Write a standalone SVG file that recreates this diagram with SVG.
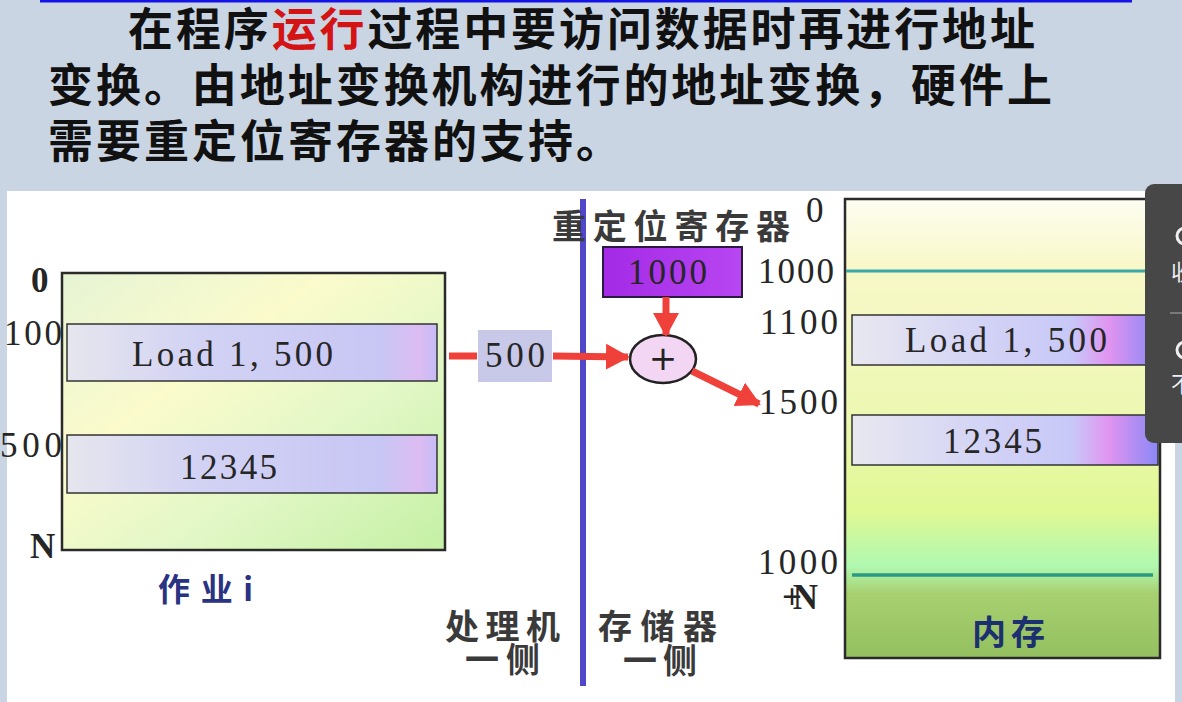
<svg xmlns="http://www.w3.org/2000/svg" width="1182" height="702" viewBox="0 0 1182 702">
<style>
.ttl{font-family:"Noto Sans CJK SC","Noto Sans",sans-serif;font-size:45px;font-weight:700;fill:#111}
.num{font-family:"Liberation Serif","DejaVu Serif",serif;font-size:35px;fill:#262626}
.cjk{font-family:"Noto Sans CJK SC",sans-serif;font-size:34px;font-weight:700;fill:#3a3a3a}
.box{stroke:#2a2a2a;stroke-width:2.5}
.band{stroke:#333;stroke-width:1.5}
.arrow{stroke:#f0403a;stroke-width:7;fill:none}
</style>
<defs>
<marker id="ah" viewBox="0 0 24 26" markerWidth="24" markerHeight="26" refX="22" refY="13" orient="auto" markerUnits="userSpaceOnUse">
<path d="M0,0 L24,13 L0,26 z" fill="#f0403a"/>
</marker>
<linearGradient id="gL" x1="0" y1="0" x2="1" y2="1">
<stop offset="0" stop-color="#e6f4d4"/>
<stop offset="0.35" stop-color="#fbfbcc"/>
<stop offset="0.65" stop-color="#e2f7c6"/>
<stop offset="1" stop-color="#c4f0a4"/>
</linearGradient>
<linearGradient id="gBandL" x1="0" y1="0" x2="1" y2="0">
<stop offset="0" stop-color="#e6e6ee"/>
<stop offset="0.35" stop-color="#d2d2f4"/>
<stop offset="0.85" stop-color="#c8c6f4"/>
<stop offset="0.95" stop-color="#dcbcf2"/>
<stop offset="1" stop-color="#c6bcf6"/>
</linearGradient>
<linearGradient id="gBandR" x1="0" y1="0" x2="1" y2="0">
<stop offset="0" stop-color="#e8e8f0"/>
<stop offset="0.45" stop-color="#d2d2f6"/>
<stop offset="0.72" stop-color="#c8c8f8"/>
<stop offset="0.84" stop-color="#e094f0"/>
<stop offset="1" stop-color="#8a88f6"/>
</linearGradient>
<linearGradient id="gR" x1="0" y1="0" x2="0" y2="1">
<stop offset="0" stop-color="#fdfdf2"/>
<stop offset="0.15" stop-color="#f8f8c8"/>
<stop offset="0.45" stop-color="#eef8b4"/>
<stop offset="0.68" stop-color="#e0f894"/>
<stop offset="0.8" stop-color="#b0f8b0"/>
<stop offset="0.86" stop-color="#a8d070"/>
<stop offset="1" stop-color="#94c060"/>
</linearGradient>
<linearGradient id="gP" x1="0" y1="0" x2="1" y2="0">
<stop offset="0" stop-color="#a42ae6"/>
<stop offset="1" stop-color="#b846f2"/>
</linearGradient>
</defs>

<rect x="0" y="0" width="1182" height="702" fill="#c9d5e3"/>
<rect x="40" y="0" width="1092" height="2.5" fill="#1414e6"/>

<g id="title">
<text class="ttl" x="128" y="46" textLength="907" lengthAdjust="spacing">在程序<tspan fill="#d41414">运行</tspan>过程中要访问数据时再进行地址</text>
<text class="ttl" x="48" y="102" textLength="1004" lengthAdjust="spacing">变换。由地址变换机构进行的地址变换，硬件上</text>
<text class="ttl" x="48" y="158" textLength="573" lengthAdjust="spacing">需要重定位寄存器的支持。</text>
</g>

<rect id="panel" x="7" y="191" width="1168" height="511" fill="#ffffff"/>

<g id="job">
<rect class="box" x="62" y="273" width="383" height="277" fill="url(#gL)"/>
<rect class="band" x="67" y="324" width="370" height="57" fill="url(#gBandL)"/>
<rect class="band" x="67" y="435" width="370" height="58" fill="url(#gBandL)"/>
<text class="num" x="132" y="366" textLength="201" lengthAdjust="spacing">Load 1, 500</text>
<text class="num" x="180" y="479" textLength="97" lengthAdjust="spacing">12345</text>
<text class="num" x="31" y="292" font-weight="bold" font-size="30">0</text>
<text class="num" x="4" y="345" textLength="58" lengthAdjust="spacing">100</text>
<text class="num" x="0" y="457" textLength="62" lengthAdjust="spacing">500</text>
<text class="num" x="30" y="558" font-weight="bold" font-size="30">N</text>
<text x="158" y="601" font-family="Noto Sans CJK SC,sans-serif" font-size="32" font-weight="700" fill="#2a3282" textLength="95" lengthAdjust="spacing">作业i</text>
</g>

<g id="offset">
<rect x="478" y="330" width="74" height="52" fill="#c8c8e8"/>
<text class="num" x="485" y="367" textLength="60" lengthAdjust="spacing">500</text>
</g>

<line id="divider" x1="583" y1="199" x2="583" y2="686" stroke="#5048c8" stroke-width="6"/>

<g id="register">
<text class="cjk" x="552" y="239" font-size="38" textLength="238" lengthAdjust="spacing">重定位寄存器</text>
<text class="num" x="806" y="222" font-size="26">0</text>
<rect x="603" y="247" width="139" height="50" fill="url(#gP)" stroke="#2a1a40" stroke-width="2"/>
<text class="num" x="628" y="284" textLength="79" lengthAdjust="spacing" fill="#3a1850">1000</text>
</g>

<g id="adder">
<ellipse cx="663" cy="359" rx="33" ry="24" fill="#f2d6f4" stroke="#222" stroke-width="2.5"/>
<text x="663" y="370" text-anchor="middle" font-family="DejaVu Sans,sans-serif" font-size="34" fill="#222">+</text>
</g>

<g id="connectors">
<line class="arrow" x1="449" y1="356" x2="477" y2="356"/>
<line class="arrow" x1="553" y1="356" x2="628" y2="357" marker-end="url(#ah)"/>
<line class="arrow" x1="666" y1="297" x2="666" y2="335" marker-end="url(#ah)"/>
<line class="arrow" x1="692" y1="371" x2="759" y2="404" marker-end="url(#ah)"/>
</g>

<g id="memory">
<rect class="box" x="845" y="199" width="315" height="459" fill="url(#gR)"/>
<line x1="846" y1="271" x2="1158" y2="271" stroke="#3aa8a8" stroke-width="3"/>
<rect class="band" x="852" y="315" width="306" height="50" fill="url(#gBandR)"/>
<rect class="band" x="852" y="415" width="306" height="50" fill="url(#gBandR)"/>
<line x1="852" y1="575" x2="1153" y2="575" stroke="#2a9a84" stroke-width="3.5"/>
<text class="num" x="905" y="352" textLength="202" lengthAdjust="spacing">Load 1, 500</text>
<text class="num" x="943" y="453" textLength="99" lengthAdjust="spacing">12345</text>
<text x="972" y="645" font-family="Noto Sans CJK SC,sans-serif" font-size="34" font-weight="700" fill="#1c3070" textLength="73" lengthAdjust="spacing">内存</text>
</g>

<g id="addresses">
<text class="num" x="758" y="283" textLength="76" lengthAdjust="spacing">1000</text>
<text class="num" x="760" y="334" textLength="78" lengthAdjust="spacing">1100</text>
<text class="num" x="759" y="414" textLength="79" lengthAdjust="spacing">1500</text>
<text class="num" x="758" y="574" textLength="80" lengthAdjust="spacing">1000</text>
<text class="num" x="782" y="609" textLength="36" lengthAdjust="spacing" font-size="27" font-weight="bold">+N</text>
</g>

<g id="sides">
<text class="cjk" x="445" y="639" textLength="115" lengthAdjust="spacing">处理机</text>
<text class="cjk" x="465" y="672" textLength="75" lengthAdjust="spacing">一侧</text>
<text class="cjk" x="598" y="639" textLength="119" lengthAdjust="spacing">存储器</text>
<text class="cjk" x="623" y="673" textLength="74" lengthAdjust="spacing">一侧</text>
</g>

<g id="overlay">
<rect x="1145" y="184" width="60" height="259" rx="9" fill="#474747"/>
<line x1="1170" y1="313" x2="1182" y2="313" stroke="#8a8a8a" stroke-width="1.5"/>
<circle cx="1185" cy="236" r="8" fill="none" stroke="#f0f0f0" stroke-width="3"/>
<text x="1171" y="280" font-family="Noto Sans CJK SC,sans-serif" font-size="22" fill="#f0f0f0">收</text>
<circle cx="1185" cy="350" r="8" fill="none" stroke="#f0f0f0" stroke-width="3"/>
<text x="1171" y="392" font-family="Noto Sans CJK SC,sans-serif" font-size="22" fill="#f0f0f0">不</text>
</g>
</svg>
